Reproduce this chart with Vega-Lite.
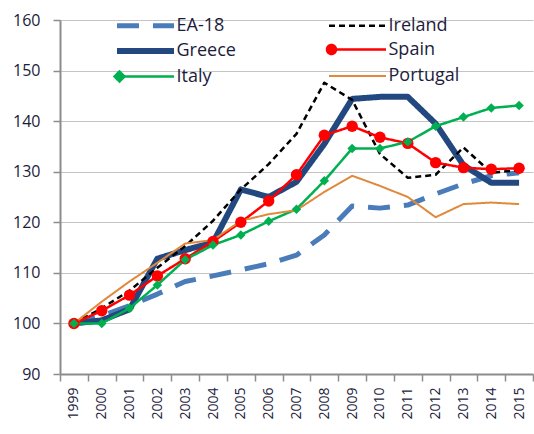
{
  "$schema": "https://vega.github.io/schema/vega-lite/v6.json",
  "width": 473,
  "height": 354,
  "autosize": {"type": "none"},
  "padding": {"left": 60, "top": 20, "right": 1, "bottom": 60},
  "background": "white",
  "config": {
    "view": {"stroke": null},
    "font": "Open Sans",
    "axis": {
      "labelFont": "Open Sans",
      "labelFontSize": 14,
      "labelColor": "#1c1c3c",
      "domainColor": "#8c8c8c",
      "domainWidth": 2,
      "tickColor": "#8c8c8c",
      "tickWidth": 1.5,
      "tickSize": 7,
      "gridColor": "#c4c4c4",
      "gridWidth": 1,
      "title": null
    }
  },
  "data": {
    "values": [
      {"s": "EA-18", "year": "1999", "v": 100}, {"s": "EA-18", "year": "2000", "v": 101.5}, {"s": "EA-18", "year": "2001", "v": 103.5}, {"s": "EA-18", "year": "2002", "v": 105.8}, {"s": "EA-18", "year": "2003", "v": 108.3}, {"s": "EA-18", "year": "2004", "v": 109.4}, {"s": "EA-18", "year": "2005", "v": 110.6}, {"s": "EA-18", "year": "2006", "v": 111.8}, {"s": "EA-18", "year": "2007", "v": 113.5}, {"s": "EA-18", "year": "2008", "v": 117.5}, {"s": "EA-18", "year": "2009", "v": 123.2}, {"s": "EA-18", "year": "2010", "v": 122.8}, {"s": "EA-18", "year": "2011", "v": 123.4}, {"s": "EA-18", "year": "2012", "v": 125.6}, {"s": "EA-18", "year": "2013", "v": 127.6}, {"s": "EA-18", "year": "2014", "v": 129.2}, {"s": "EA-18", "year": "2015", "v": 129.8},
      {"s": "Greece", "year": "1999", "v": 100}, {"s": "Greece", "year": "2000", "v": 100.6}, {"s": "Greece", "year": "2001", "v": 102.8}, {"s": "Greece", "year": "2002", "v": 112.8}, {"s": "Greece", "year": "2003", "v": 114.5}, {"s": "Greece", "year": "2004", "v": 116}, {"s": "Greece", "year": "2005", "v": 126.5}, {"s": "Greece", "year": "2006", "v": 125}, {"s": "Greece", "year": "2007", "v": 128}, {"s": "Greece", "year": "2008", "v": 135.5}, {"s": "Greece", "year": "2009", "v": 144.4}, {"s": "Greece", "year": "2010", "v": 144.8}, {"s": "Greece", "year": "2011", "v": 144.8}, {"s": "Greece", "year": "2012", "v": 139.5}, {"s": "Greece", "year": "2013", "v": 131.3}, {"s": "Greece", "year": "2014", "v": 127.8}, {"s": "Greece", "year": "2015", "v": 127.8},
      {"s": "Ireland", "year": "1999", "v": 100}, {"s": "Ireland", "year": "2000", "v": 103}, {"s": "Ireland", "year": "2001", "v": 106.5}, {"s": "Ireland", "year": "2002", "v": 111}, {"s": "Ireland", "year": "2003", "v": 115.3}, {"s": "Ireland", "year": "2004", "v": 120.3}, {"s": "Ireland", "year": "2005", "v": 126.5}, {"s": "Ireland", "year": "2006", "v": 131.5}, {"s": "Ireland", "year": "2007", "v": 137.5}, {"s": "Ireland", "year": "2008", "v": 147.6}, {"s": "Ireland", "year": "2009", "v": 144.2}, {"s": "Ireland", "year": "2010", "v": 133.5}, {"s": "Ireland", "year": "2011", "v": 128.8}, {"s": "Ireland", "year": "2012", "v": 129.4}, {"s": "Ireland", "year": "2013", "v": 134.8}, {"s": "Ireland", "year": "2014", "v": 129.8}, {"s": "Ireland", "year": "2015", "v": 130.3},
      {"s": "Spain", "year": "1999", "v": 100}, {"s": "Spain", "year": "2000", "v": 102.5}, {"s": "Spain", "year": "2001", "v": 105.6}, {"s": "Spain", "year": "2002", "v": 109.4}, {"s": "Spain", "year": "2003", "v": 112.8}, {"s": "Spain", "year": "2004", "v": 116.2}, {"s": "Spain", "year": "2005", "v": 120}, {"s": "Spain", "year": "2006", "v": 124.2}, {"s": "Spain", "year": "2007", "v": 129.4}, {"s": "Spain", "year": "2008", "v": 137.2}, {"s": "Spain", "year": "2009", "v": 139}, {"s": "Spain", "year": "2010", "v": 136.8}, {"s": "Spain", "year": "2011", "v": 135.6}, {"s": "Spain", "year": "2012", "v": 131.8}, {"s": "Spain", "year": "2013", "v": 130.8}, {"s": "Spain", "year": "2014", "v": 130.5}, {"s": "Spain", "year": "2015", "v": 130.7},
      {"s": "Italy", "year": "1999", "v": 100}, {"s": "Italy", "year": "2000", "v": 100}, {"s": "Italy", "year": "2001", "v": 103}, {"s": "Italy", "year": "2002", "v": 107.6}, {"s": "Italy", "year": "2003", "v": 112.6}, {"s": "Italy", "year": "2004", "v": 115.5}, {"s": "Italy", "year": "2005", "v": 117.5}, {"s": "Italy", "year": "2006", "v": 120.2}, {"s": "Italy", "year": "2007", "v": 122.6}, {"s": "Italy", "year": "2008", "v": 128.2}, {"s": "Italy", "year": "2009", "v": 134.6}, {"s": "Italy", "year": "2010", "v": 134.6}, {"s": "Italy", "year": "2011", "v": 135.9}, {"s": "Italy", "year": "2012", "v": 139}, {"s": "Italy", "year": "2013", "v": 140.8}, {"s": "Italy", "year": "2014", "v": 142.6}, {"s": "Italy", "year": "2015", "v": 143.1},
      {"s": "Portugal", "year": "1999", "v": 100}, {"s": "Portugal", "year": "2000", "v": 104.3}, {"s": "Portugal", "year": "2001", "v": 108.3}, {"s": "Portugal", "year": "2002", "v": 112}, {"s": "Portugal", "year": "2003", "v": 115.8}, {"s": "Portugal", "year": "2004", "v": 116.5}, {"s": "Portugal", "year": "2005", "v": 120.3}, {"s": "Portugal", "year": "2006", "v": 121.6}, {"s": "Portugal", "year": "2007", "v": 122.4}, {"s": "Portugal", "year": "2008", "v": 126}, {"s": "Portugal", "year": "2009", "v": 129.2}, {"s": "Portugal", "year": "2010", "v": 127.2}, {"s": "Portugal", "year": "2011", "v": 125}, {"s": "Portugal", "year": "2012", "v": 121}, {"s": "Portugal", "year": "2013", "v": 123.6}, {"s": "Portugal", "year": "2014", "v": 123.9}, {"s": "Portugal", "year": "2015", "v": 123.6}
    ]
  },
  "encoding": {
    "x": {
      "field": "year", "type": "ordinal",
      "scale": {"type": "band", "paddingInner": 0, "paddingOuter": 0},
      "bandPosition": 0.5,
      "axis": {"labelAngle": -90, "tickBand": "extent", "grid": false, "labelPadding": 6, "labelAlign": "right", "labelBaseline": "middle"}
    },
    "y": {
      "field": "v", "type": "quantitative",
      "scale": {"domain": [90, 160], "nice": false, "zero": false},
      "axis": {"values": [90, 100, 110, 120, 130, 140, 150, 160], "labelPadding": 13, "labelFontSize": 16, "grid": true}
    }
  },
  "layer": [
    {
      "mark": {"type": "line", "strokeCap": "butt", "strokeJoin": "round"},
      "encoding": {
        "color": {
          "field": "s", "type": "nominal",
          "scale": {"domain": ["EA-18", "Ireland", "Greece", "Spain", "Italy", "Portugal"], "range": ["#4a7cba", "#000000", "#22487f", "#ff0000", "#00b050", "#e0893c"]},
          "legend": {
            "title": null, "orient": "none", "legendX": 54, "legendY": -7, "columns": 2,
            "columnPadding": 86, "rowPadding": 2,
            "symbolType": "M-2.85,0H2.85", "symbolSize": 400, "symbolOffset": 18.5,
            "labelFont": "Open Sans", "labelFontSize": 18, "labelColor": "#1c1c3c", "labelOffset": 18,
            "direction": "horizontal",
            "encode": {
              "symbols": {
                "update": {
                  "shape": {"signal": "datum.value === 'Spain' ? 'M-2.85,0H2.85M-3.05,0A0.45,0.45 0 1,0 -2.15,0A0.45,0.45 0 1,0 -3.05,0Z' : datum.value === 'Italy' ? 'M-2.85,0H2.85M-3.1,0L-2.6,-0.5L-2.1,0L-2.6,0.5Z' : 'M-2.85,0H2.85'"},
                  "fill": {"signal": "datum.value === 'Spain' ? '#ff0000' : datum.value === 'Italy' ? '#00b050' : 'transparent'"},
                  "fillOpacity": {"value": 1}
                }
              }
            }
          }
        },
        "strokeDash": {
          "field": "s", "type": "nominal",
          "scale": {"type": "ordinal", "domain": ["EA-18", "Ireland", "Greece", "Spain", "Italy", "Portugal"], "range": [[22, 14], [6, 4], [1, 0], [1, 0], [1, 0], [1, 0]]},
          "legend": {"title": null}
        },
        "strokeWidth": {
          "field": "s", "type": "nominal",
          "scale": {"type": "ordinal", "domain": ["EA-18", "Ireland", "Greece", "Spain", "Italy", "Portugal"], "range": [5, 2.5, 6, 2.5, 2.5, 2]},
          "legend": {"title": null}
        }
      }
    },
    {
      "transform": [{"filter": "datum.s === 'Spain'"}],
      "mark": {"type": "point", "shape": "circle", "filled": true, "color": "#ff0000", "size": 130, "opacity": 1}
    },
    {
      "transform": [{"filter": "datum.s === 'Italy'"}],
      "mark": {"type": "point", "shape": "diamond", "filled": true, "color": "#00b050", "size": 90, "opacity": 1}
    }
  ]
}
